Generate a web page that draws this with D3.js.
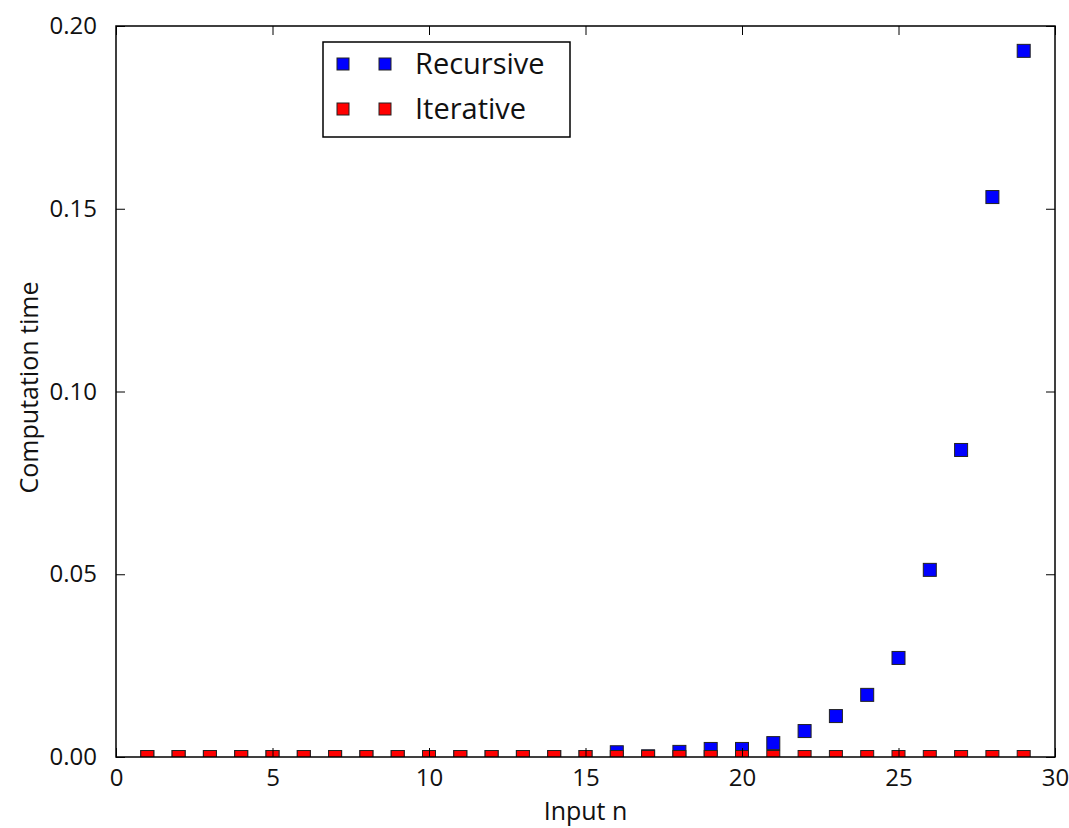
<!DOCTYPE html>
<html>
<head>
<meta charset="utf-8">
<script src="https://cdn.jsdelivr.net/npm/d3@7"></script>
<style>
  body { margin: 0; background: #fff; }
  svg { display: block; }
  text { font-family: "Open Sans", "DejaVu Sans", sans-serif; fill: #111; }
</style>
</head>
<body>
<div id="chart"></div>
<script>
// Input sizes n = 1..29
const inputN = d3.range(1, 30);

// Recursive timings
const recursiveTime = [
    0, 0, 0, 0, 0, 0, 0, 0, 0, 0,
    0, 0, 0, 0, 0, 0.0013, 0.0002, 0.0014, 0.0022, 0.0022,
    0.0038, 0.0071, 0.0112, 0.0170, 0.0271, 0.0512, 0.0840, 0.1532, 0.1932
];

// Iterative timings: all essentially zero
const iterativeTime = inputN.map(() => 0);

const xTicks = [0, 5, 10, 15, 20, 25, 30];
const yTicks = [0, 0.05, 0.10, 0.15, 0.20];

const series = [
    { name: 'Recursive', color: '#0000ff', values: recursiveTime },
    { name: 'Iterative', color: '#ff0000', values: iterativeTime }
];

const width = 1069, height = 828;
const margin = { top: 26, right: 14, bottom: 71, left: 116 };
const w = width - margin.left - margin.right;
const h = height - margin.top - margin.bottom;

const svg = d3.select('#chart').append('svg')
    .attr('width', width)
    .attr('height', height);

svg.append('defs').append('clipPath')
    .attr('id', 'plot-clip')
    .append('rect')
    .attr('width', w)
    .attr('height', h);

const g = svg.append('g')
    .attr('transform', `translate(${margin.left},${margin.top})`);

const x = d3.scaleLinear().domain([0, 30]).range([0, w]);
const y = d3.scaleLinear().domain([0, 0.20]).range([h, 0]);

// markers
const ms = 13;
const plot = g.append('g').attr('clip-path', 'url(#plot-clip)');
series.forEach(s => {
    plot.selectAll(null)
        .data(inputN.map((n, i) => ({ n, v: s.values[i] })))
        .enter()
        .append('rect')
        .attr('x', d => x(d.n) - ms / 2)
        .attr('y', d => y(d.v) - ms / 2)
        .attr('width', ms)
        .attr('height', ms)
        .attr('fill', s.color)
        .attr('stroke', '#222')
        .attr('stroke-width', 1);
});

// frame
g.append('rect')
    .attr('width', w)
    .attr('height', h)
    .attr('fill', 'none')
    .attr('stroke', '#000')
    .attr('stroke-width', 1.5);

// inward ticks on all sides
const tickLen = 9;
const tickStyle = sel => {
    sel.select('.domain').remove();
    sel.selectAll('.tick line').attr('stroke', '#000').attr('stroke-width', 1);
};

g.append('g')
    .attr('transform', `translate(0,${h})`)
    .call(d3.axisBottom(x).tickValues(xTicks).tickSize(-tickLen).tickPadding(tickLen + 3)
        .tickFormat(d3.format('d')))
    .call(tickStyle)
    .selectAll('text').style('font-size', '24px').attr('fill', '#111');

g.append('g')
    .call(d3.axisTop(x).tickValues(xTicks).tickSize(-tickLen).tickFormat(''))
    .call(tickStyle);

g.append('g')
    .call(d3.axisLeft(y).tickValues(yTicks).tickSize(-tickLen).tickPadding(tickLen + 10)
        .tickFormat(d3.format('.2f')))
    .call(tickStyle)
    .selectAll('text').style('font-size', '24px').attr('fill', '#111');

g.append('g')
    .attr('transform', `translate(${w},0)`)
    .call(d3.axisRight(y).tickValues(yTicks).tickSize(-tickLen).tickFormat(''))
    .call(tickStyle);

// axis labels
svg.append('text')
    .attr('x', margin.left + w / 2)
    .attr('y', 820)
    .attr('text-anchor', 'middle')
    .style('font-size', '25px')
    .text('Input n');

svg.append('text')
    .attr('transform', `translate(38,${margin.top + h / 2 - 4}) rotate(-90)`)
    .attr('text-anchor', 'middle')
    .style('font-size', '25px')
    .text('Computation time');

// legend
const legend = svg.append('g').attr('transform', 'translate(323,42)');
legend.append('rect')
    .attr('width', 247)
    .attr('height', 95)
    .attr('fill', '#fff')
    .attr('stroke', '#000')
    .attr('stroke-width', 1.5);

const items = legend.selectAll('.legend-item')
    .data(series)
    .enter()
    .append('g')
    .attr('class', 'legend-item')
    .attr('transform', (d, i) => `translate(0,${22 + i * 45})`);

[20, 62].forEach(mx => {
    items.append('rect')
        .attr('x', mx - 6)
        .attr('y', -6)
        .attr('width', 12)
        .attr('height', 12)
        .attr('fill', d => d.color)
        .attr('stroke', '#222')
        .attr('stroke-width', 1);
});

items.append('text')
    .attr('x', 92)
    .attr('y', 10)
    .style('font-size', '29px')
    .text(d => d.name);
</script>
</body>
</html>
